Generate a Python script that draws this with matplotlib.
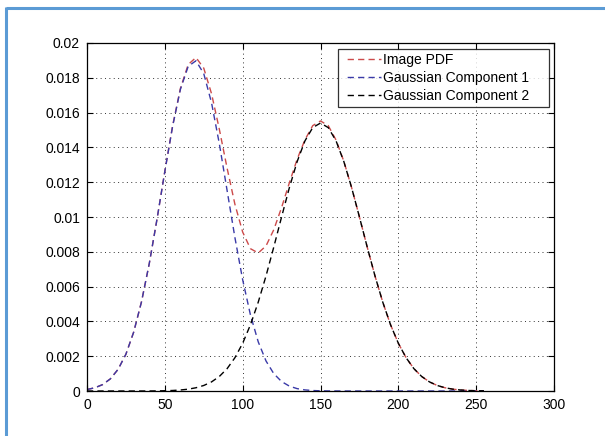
import matplotlib
matplotlib.use("Agg")
import matplotlib.pyplot as plt
from matplotlib.lines import Line2D

# ---- data ----
x_vals = [0, 5, 10, 15, 20, 25, 30, 35, 40, 45, 50, 55, 60, 65, 70, 75, 80, 85, 90,
          95, 100, 105, 110, 115, 120, 125, 130, 135, 140, 145, 150, 155, 160, 165,
          170, 175, 180, 185, 190, 195, 200, 205, 210, 215, 220, 225, 230, 235, 240,
          245, 250, 255]

image_pdf = [0.000086, 0.000183, 0.000367, 0.000697, 0.001249, 0.002116, 0.003388,
             0.005123, 0.007323, 0.009888, 0.012634, 0.015243, 0.017391, 0.018763,
             0.019165, 0.018557, 0.017087, 0.015048, 0.012808, 0.010739, 0.009135,
             0.008179, 0.007931, 0.008338, 0.009271, 0.010547, 0.011966, 0.013321,
             0.014436, 0.015250, 0.015520, 0.015250, 0.014420, 0.013200, 0.011686,
             0.010004, 0.008276, 0.006613, 0.005105, 0.003807, 0.002743, 0.001910,
             0.001284, 0.000834, 0.000523, 0.000317, 0.000186, 0.000105, 0.000058,
             0.000030, 0.000016, 0.000008]

gauss_1 = [0.000086, 0.000183, 0.000367, 0.000697, 0.001249, 0.002116, 0.003388,
           0.005123, 0.007323, 0.009888, 0.012618, 0.015213, 0.017333, 0.018658,
           0.018979, 0.018240, 0.016564, 0.014214, 0.011524, 0.008829, 0.006392,
           0.004372, 0.002826, 0.001725, 0.000995, 0.000543, 0.000280, 0.000136,
           0.000063, 0.000027, 0.000011, 0.000004, 0.000002, 0.0, 0.0, 0.0, 0.0,
           0.0, 0.0, 0.0, 0.0, 0.0, 0.0, 0.0, 0.0, 0.0, 0.0, 0.0, 0.0, 0.0, 0.0, 0.0]

gauss_2 = [0.0, 0.0, 0.0, 0.0, 0.0, 0.0, 0.0, 0.000001, 0.000002, 0.000006, 0.000016,
           0.000030, 0.000058, 0.000105, 0.000186, 0.000317, 0.000523, 0.000834,
           0.001284, 0.001910, 0.002743, 0.003807, 0.005105, 0.006613, 0.008276,
           0.010004, 0.011686, 0.013185, 0.014373, 0.015137, 0.015400, 0.015137,
           0.014373, 0.013185, 0.011686, 0.010004, 0.008276, 0.006613, 0.005105,
           0.003807, 0.002743, 0.001910, 0.001284, 0.000834, 0.000523, 0.000317,
           0.000186, 0.000105, 0.000058, 0.000030, 0.000016, 0.000008]

series_labels = ["Image PDF", "Gaussian Component 1", "Gaussian Component 2"]
series_colors = ["#cc4a4a", "#3a3aa8", "black"]
x_ticks = [0, 50, 100, 150, 200, 250, 300]
y_ticks = [0, 0.002, 0.004, 0.006, 0.008, 0.01, 0.012, 0.014, 0.016, 0.018, 0.02]
y_tick_labels = ["0", "0.002", "0.004", "0.006", "0.008", "0.01", "0.012",
                 "0.014", "0.016", "0.018", "0.02"]

# ---- figure ----
plt.rcParams['font.family'] = ['Liberation Sans', 'DejaVu Sans']
W, H = 605, 436
fig = plt.figure(figsize=(W / 100, H / 100), dpi=100)
fig.patch.set_facecolor("white")

ax_l, ax_r, ax_t, ax_b = 87, 554, 43, 391
ax = fig.add_axes([ax_l / W, 1 - ax_b / H, (ax_r - ax_l) / W, (ax_b - ax_t) / H])

dash = (4.5, 3.0)
for yv, c in zip([image_pdf, gauss_1, gauss_2], series_colors):
    ax.plot(x_vals, yv, color=c, lw=1.0, dashes=dash)

ax.set_xlim(0, 300)
ax.set_ylim(0, 0.02)
ax.set_xticks(x_ticks)
ax.set_xticklabels([str(t) for t in x_ticks])
ax.set_yticks(y_ticks)
ax.set_yticklabels(y_tick_labels)

ax.tick_params(axis="both", direction="in", length=4, width=0.8, labelsize=10,
               top=True, right=True, colors="black")
ax.tick_params(axis="x", pad=5)
ax.tick_params(axis="y", pad=5)
for sp in ax.spines.values():
    sp.set_linewidth(0.9)
    sp.set_color("black")

ax.grid(True, color="#333333", linestyle=(0, (1, 3.5)), linewidth=0.7)
ax.set_axisbelow(True)

# legend proxies (start with a gap, like the reference's legend samples)
proxies = [Line2D([], [], color=c, lw=1.0, linestyle=(4.5, (4.5, 3.0)))
           for c in series_colors]
legend_texts = [series_labels[0], series_labels[1] + "    ", series_labels[2] + "    "]
leg = ax.legend(proxies, legend_texts, loc="upper right",
                bbox_to_anchor=((549 - ax_l) / (ax_r - ax_l), (ax_b - 49) / (ax_b - ax_t)),
                fontsize=10, frameon=True, fancybox=False, shadow=False,
                handlelength=2.8, handletextpad=0.12, borderpad=0.3,
                labelspacing=0.28, borderaxespad=0.0)
leg.get_frame().set_edgecolor("black")
leg.get_frame().set_linewidth(0.9)

# blue frame around the picture (top and left edges)
fig.add_artist(Line2D([6 / W, 1.0], [1 - 8.5 / H, 1 - 8.5 / H], transform=fig.transFigure,
                      color="#5b9bd5", lw=2.2, solid_capstyle="butt"))
fig.add_artist(Line2D([6 / W, 6 / W], [0.0, 1 - 7.5 / H], transform=fig.transFigure,
                      color="#5b9bd5", lw=2.2, solid_capstyle="butt"))

fig.savefig("out.png", dpi=100)
